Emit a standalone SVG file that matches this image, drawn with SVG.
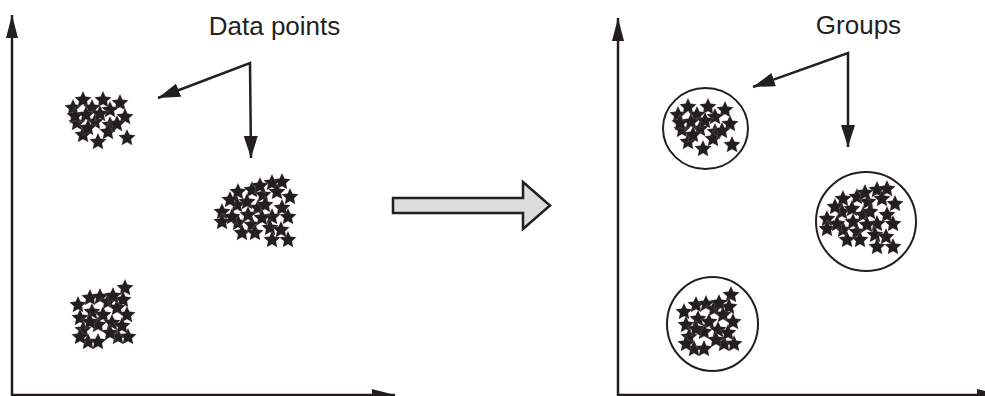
<svg xmlns="http://www.w3.org/2000/svg" xmlns:xlink="http://www.w3.org/1999/xlink" width="985" height="396" viewBox="0 0 985 396">
  <style>
    .axis { fill: none; stroke: #231f20; stroke-width: 2.5; }
    .callout { fill: none; stroke: #231f20; stroke-width: 2.5; stroke-linejoin: miter; }
    .label { font-family: "Liberation Sans", Arial, sans-serif; font-size: 26px; fill: #231f20; text-anchor: middle; }
    .ring { fill: none; stroke: #231f20; stroke-width: 2; }
    .star { fill: #231f20; stroke: #ffffff; stroke-width: 0.15; }
    .big-arrow { fill: #dcdddd; stroke: #231f20; stroke-width: 2.5; stroke-linejoin: miter; }
  </style>
  <defs>
    <marker id="axis-head" viewBox="0 0 23 12" refX="23" refY="6" markerWidth="23" markerHeight="12" markerUnits="userSpaceOnUse" orient="auto">
      <path d="M0,0 L23,6 L0,12 Z" fill="#231f20"/>
    </marker>
    <marker id="callout-head" viewBox="0 0 22 14" refX="22" refY="7" markerWidth="22" markerHeight="14" markerUnits="userSpaceOnUse" orient="auto-start-reverse">
      <path d="M0,0 L22,7 L0,14 Z" fill="#231f20"/>
    </marker>
    <path id="star" class="star" d="M0,-9 L2.53,-3.48 L8.56,-2.78 L4.09,1.33 L5.29,7.28 L0,4.3 L-5.29,7.28 L-4.09,1.33 L-8.56,-2.78 L-2.53,-3.48 Z"/>

    <!-- small cluster, upper left -->
    <g id="cluster-a">
      <use xlink:href="#star" x="73" y="108"/>
      <use xlink:href="#star" x="83" y="100"/>
      <use xlink:href="#star" x="103" y="100"/>
      <use xlink:href="#star" x="120" y="103"/>
      <use xlink:href="#star" x="92" y="108"/>
      <use xlink:href="#star" x="110" y="110"/>
      <use xlink:href="#star" x="125" y="117"/>
      <use xlink:href="#star" x="77" y="123"/>
      <use xlink:href="#star" x="75" y="116"/>
      <use xlink:href="#star" x="95" y="122"/>
      <use xlink:href="#star" x="110" y="125"/>
      <use xlink:href="#star" x="108" y="132"/>
      <use xlink:href="#star" x="83" y="135"/>
      <use xlink:href="#star" x="98" y="142"/>
      <use xlink:href="#star" x="127" y="138"/>
      <use xlink:href="#star" x="86" y="115"/>
      <use xlink:href="#star" x="117" y="124"/>
      <use xlink:href="#star" x="88" y="128"/>
      <use xlink:href="#star" x="100" y="114"/>
    </g>

    <!-- larger cluster, centre -->
    <g id="cluster-b">
      <use xlink:href="#star" x="222" y="212"/>
      <use xlink:href="#star" x="222" y="222"/>
      <use xlink:href="#star" x="237" y="205"/>
      <use xlink:href="#star" x="238" y="192"/>
      <use xlink:href="#star" x="252" y="190"/>
      <use xlink:href="#star" x="272" y="183"/>
      <use xlink:href="#star" x="282" y="182"/>
      <use xlink:href="#star" x="277" y="192"/>
      <use xlink:href="#star" x="263" y="195"/>
      <use xlink:href="#star" x="247" y="202"/>
      <use xlink:href="#star" x="258" y="208"/>
      <use xlink:href="#star" x="282" y="208"/>
      <use xlink:href="#star" x="288" y="217"/>
      <use xlink:href="#star" x="272" y="217"/>
      <use xlink:href="#star" x="238" y="223"/>
      <use xlink:href="#star" x="252" y="225"/>
      <use xlink:href="#star" x="242" y="233"/>
      <use xlink:href="#star" x="255" y="233"/>
      <use xlink:href="#star" x="270" y="228"/>
      <use xlink:href="#star" x="272" y="240"/>
      <use xlink:href="#star" x="288" y="240"/>
      <use xlink:href="#star" x="232" y="217"/>
      <use xlink:href="#star" x="248" y="215"/>
      <use xlink:href="#star" x="265" y="205"/>
      <use xlink:href="#star" x="230" y="200"/>
      <use xlink:href="#star" x="260" y="186"/>
      <use xlink:href="#star" x="281" y="230"/>
      <use xlink:href="#star" x="290" y="197"/>
      <use xlink:href="#star" x="262" y="218"/>
    </g>

    <!-- cluster, lower left -->
    <g id="cluster-c">
      <use xlink:href="#star" x="125" y="288"/>
      <use xlink:href="#star" x="123" y="300"/>
      <use xlink:href="#star" x="78" y="305"/>
      <use xlink:href="#star" x="90" y="298"/>
      <use xlink:href="#star" x="100" y="297"/>
      <use xlink:href="#star" x="108" y="302"/>
      <use xlink:href="#star" x="80" y="318"/>
      <use xlink:href="#star" x="92" y="312"/>
      <use xlink:href="#star" x="103" y="315"/>
      <use xlink:href="#star" x="117" y="308"/>
      <use xlink:href="#star" x="127" y="315"/>
      <use xlink:href="#star" x="83" y="330"/>
      <use xlink:href="#star" x="98" y="325"/>
      <use xlink:href="#star" x="112" y="323"/>
      <use xlink:href="#star" x="88" y="342"/>
      <use xlink:href="#star" x="98" y="342"/>
      <use xlink:href="#star" x="118" y="337"/>
      <use xlink:href="#star" x="128" y="337"/>
      <use xlink:href="#star" x="110" y="333"/>
      <use xlink:href="#star" x="80" y="337"/>
      <use xlink:href="#star" x="90" y="322"/>
      <use xlink:href="#star" x="113" y="296"/>
      <use xlink:href="#star" x="122" y="326"/>
    </g>
  </defs>

  <rect width="985" height="396" fill="#ffffff"/>

  <!-- left plot: raw data -->
  <g id="left-axes">
    <line class="axis" x1="12" y1="397" x2="12" y2="15" marker-end="url(#axis-head)"/>
    <line class="axis" x1="11" y1="395" x2="395" y2="395" marker-end="url(#axis-head)"/>
  </g>
  <g id="data-points-label">
    <text class="label" x="274.5" y="35">Data points</text>
  </g>
  <g id="data-cluster-1"><use xlink:href="#cluster-a"/></g>
  <g id="data-cluster-2"><use xlink:href="#cluster-b"/></g>
  <g id="data-cluster-3"><use xlink:href="#cluster-c"/></g>

  <!-- transition arrow -->
  <g id="transform-arrow">
    <polygon class="big-arrow" points="393,198 523,198 523,182 550,205.5 523,229 523,213 393,213"/>
  </g>

  <!-- right plot: grouped data -->
  <g id="right-axes">
    <line class="axis" x1="618" y1="397" x2="618" y2="18" marker-end="url(#axis-head)"/>
    <line class="axis" x1="617" y1="395" x2="1000" y2="395" marker-end="url(#axis-head)"/>
  </g>
  <g id="groups-label">
    <text class="label" x="858.5" y="34">Groups</text>
  </g>
  <g id="group-1">
    <ellipse class="ring" cx="705.5" cy="128.5" rx="42.5" ry="40.5"/>
    <use xlink:href="#cluster-a" transform="translate(605,7)"/>
  </g>
  <g id="group-2">
    <ellipse class="ring" cx="866" cy="221.5" rx="50" ry="49.5"/>
    <use xlink:href="#cluster-b" transform="translate(605,7)"/>
  </g>
  <g id="group-3">
    <ellipse class="ring" cx="712.5" cy="324" rx="45.5" ry="47"/>
    <use xlink:href="#cluster-c" transform="translate(606,7)"/>
  </g>

  <!-- callout connectors -->
  <g id="connectors">
    <path class="callout" d="M158,98 L250,63 L251,158" marker-start="url(#callout-head)" marker-end="url(#callout-head)"/>
    <path class="callout" d="M753,87 L848,53 L848,147" marker-start="url(#callout-head)" marker-end="url(#callout-head)"/>
  </g>
</svg>
